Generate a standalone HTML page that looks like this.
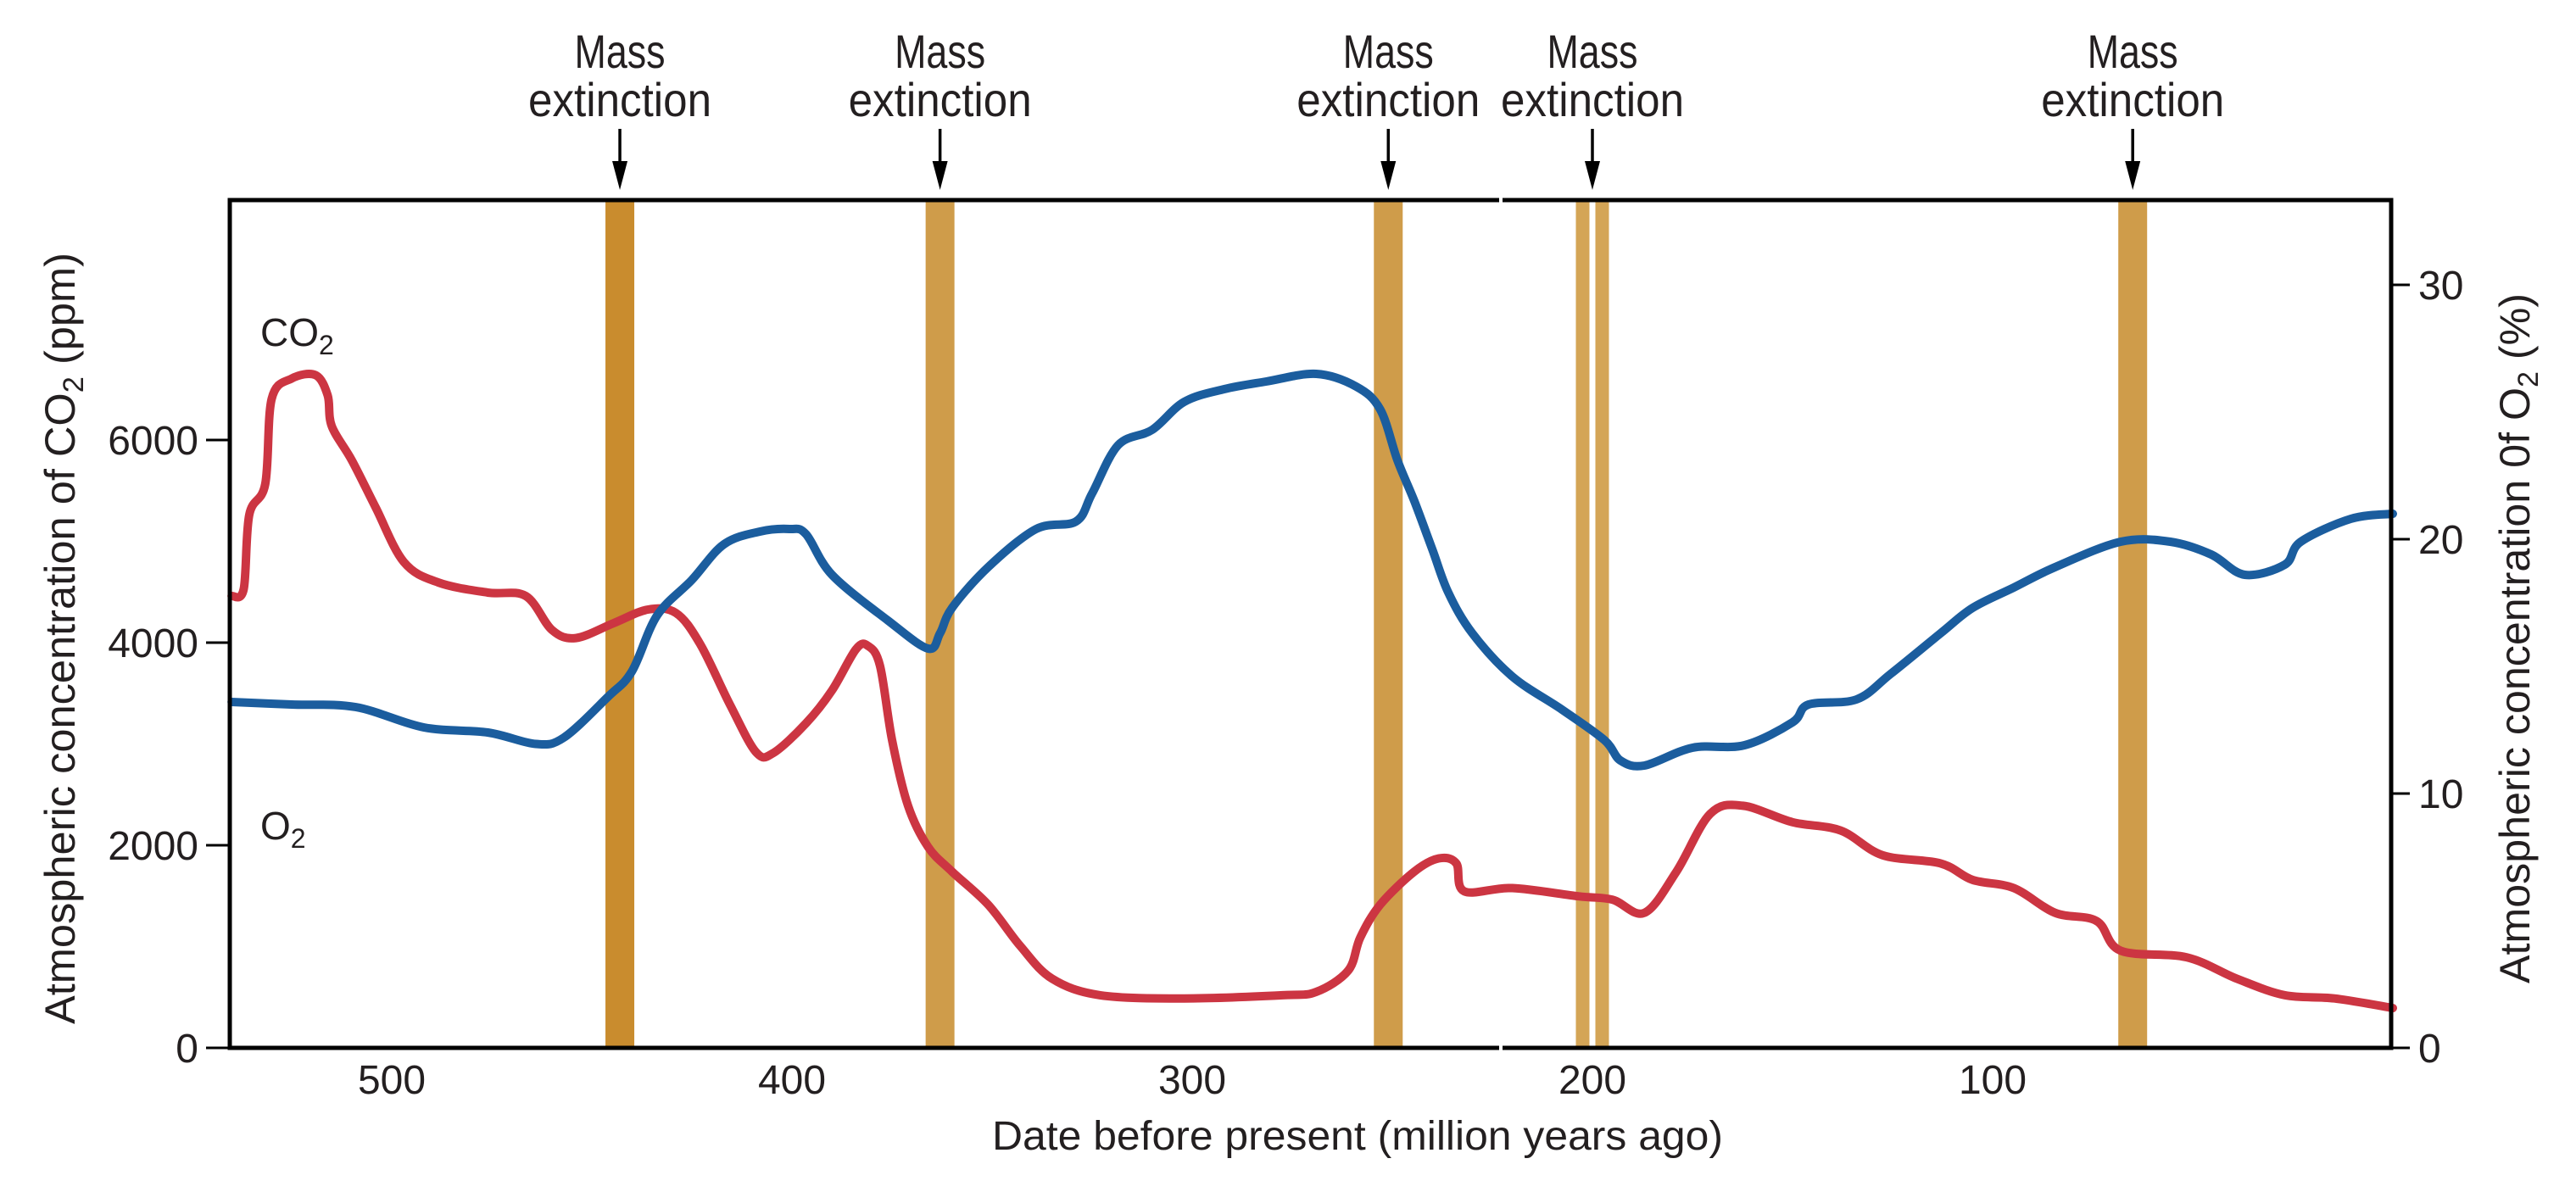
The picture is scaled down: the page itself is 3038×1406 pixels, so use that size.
<!DOCTYPE html>
<html><head><meta charset="utf-8"><style>
html,body{margin:0;padding:0;background:#fff;}
svg{display:block;}
text{font-family:"Liberation Sans",sans-serif;fill:#231f20;}
</style></head><body>
<svg id="chart" width="3038" height="1406" viewBox="0 0 3038 1406" xmlns="http://www.w3.org/2000/svg">
<g id="bands"></g>
<g id="ann"></g>
<g id="lines"></g>
<g id="axes"></g>
</svg>
<script>
const co2Times=[540,537,535.6,531.6,530,525,519,516,515,510,504,497,488.4,476,466.5,460,454,444.6,436,429,423,415.5,409,404.7,396.5,390,384,381,378,375,371,366,360,351,343,335,323,302,277.4,269,261,258,253,244.5,238.4,234,232,220,203.5,195,187,179,170.6,162.4,150,138,127.5,113,105,94.7,84.4,74,68,51.5,39,27,14.6,0];
const co2Values=[4460,4527,5263,5565,6406,6607,6640,6439,6138,5802,5333,4797,4594,4494,4460,4126,4045,4192,4326,4293,3991,3389,2920,2910,3203,3528,3935,3967,3772,3040,2390,1984,1740,1414,1008,683,520,488,520,553,764,1089,1414,1740,1870,1821,1545,1577,1496,1463,1333,1740,2309,2390,2228,2146,1902,1821,1658,1577,1333,1252,959,894,683,520,488,393];
const o2Times=[540,525,509,492,476,464,457,446,440,433.7,425,417,408,400.6,396.5,390,376,366,363,360,351,339,329,325,318.5,310,302,292,281.5,269,259,253,248.7,244.5,240,236,230,220,207.6,197,193,187,175,162,150,146,134,125.5,113,105,94.7,84.4,68,55.6,45.4,37,27,23,10.5,0];
const o2Values=[13.6,13.5,13.4,12.6,12.4,11.95,12.2,13.8,14.8,17.0,18.4,19.8,20.3,20.4,20.2,18.6,16.8,15.7,16.3,17.3,18.9,20.4,20.7,21.8,23.7,24.3,25.4,25.9,26.2,26.5,26.0,25.1,23.1,21.5,19.6,17.9,16.3,14.6,13.3,12.1,11.3,11.1,11.8,11.9,12.8,13.5,13.7,14.7,16.3,17.3,18.1,18.9,19.9,19.9,19.4,18.6,19.0,19.9,20.8,21.0];
const extinctionTimes=[443,363,251,200,65];
const xTicks=[500,400,300,200,100];
const co2Ticks=[0,2000,4000,6000];
const o2Ticks=[0,10,20,30];

const L=271,R=2820,T=236,B=1236;
const x=t=>2822-t*4.72;
const yC=v=>B-v*0.1195;
const yO=v=>B-v*30;
const NS="http://www.w3.org/2000/svg";
function mk(tag,attrs,parent){const e=document.createElementNS(NS,tag);for(const k in attrs)e.setAttribute(k,attrs[k]);parent.appendChild(e);return e;}
function smooth(pts){let d="M"+pts[0][0].toFixed(1)+","+pts[0][1].toFixed(1);
for(let i=0;i<pts.length-1;i++){const p0=pts[Math.max(0,i-1)],p1=pts[i],p2=pts[i+1],p3=pts[Math.min(pts.length-1,i+2)];
const c1=[p1[0]+(p2[0]-p0[0])/6,p1[1]+(p2[1]-p0[1])/6],c2=[p2[0]-(p3[0]-p1[0])/6,p2[1]-(p3[1]-p1[1])/6];
d+="C"+c1[0].toFixed(1)+","+c1[1].toFixed(1)+" "+c2[0].toFixed(1)+","+c2[1].toFixed(1)+" "+p2[0].toFixed(1)+","+p2[1].toFixed(1);}return d;}

const bands=document.getElementById('bands');
extinctionTimes.forEach((t,i)=>{
  if(t===200){
    [-11.5,11.5].forEach(o=>{const r=mk('rect',{x:x(t)+o-8,y:T,width:16,height:B-T,fill:'#d4a556'},bands);
    
    });
  } else {
    const r=mk('rect',{x:x(t)-17,y:T,width:34,height:B-T,fill:i===0?'#c98c2e':'#cf9c4a'},bands);
    
    
  }
});
const ann=document.getElementById('ann');
extinctionTimes.forEach(t=>{
  const cx=x(t);
  const m=mk('text',{x:cx,y:80,'font-size':56,'text-anchor':'middle',textLength:107,lengthAdjust:'spacingAndGlyphs'},ann);m.textContent='Mass';
  
  
  const e=mk('text',{x:cx,y:137,'font-size':56,'text-anchor':'middle',textLength:216,lengthAdjust:'spacingAndGlyphs'},ann);e.textContent='extinction';
  
  
  const a=mk('line',{x1:cx,y1:152,x2:cx,y2:200,stroke:'#000','stroke-width':3.5},ann);
  
  
  const h=mk('polygon',{points:`${cx-9},${190} ${cx+9},${190} ${cx},${224}`,fill:'#000'},ann);
  
  
});
const lines=document.getElementById('lines');
const pc=mk('path',{d:smooth(co2Times.map((t,i)=>[x(t),yC(co2Values[i])])),fill:'none',stroke:'#cc3542','stroke-width':10,'stroke-linejoin':'round','stroke-linecap':'round'},lines);


const po=mk('path',{d:smooth(o2Times.map((t,i)=>[x(t),yO(o2Values[i])])),fill:'none',stroke:'#1b5d9e','stroke-width':10,'stroke-linejoin':'round','stroke-linecap':'round'},lines);



const ax=document.getElementById('axes');
const fr=mk('rect',{x:L,y:T,width:R-L,height:B-T,fill:'none',stroke:'#000','stroke-width':5},ax);


const g1=mk('rect',{x:1768,y:T-5,width:4,height:10,fill:'#fff'},ax);


const g2=mk('rect',{x:1768,y:B-5,width:4,height:10,fill:'#fff'},ax);


xTicks.forEach(t=>{const tx=mk('text',{x:x(t),y:1290,'font-size':48,'text-anchor':'middle',textLength:80,lengthAdjust:'spacingAndGlyphs'},ax);tx.textContent=t;
  
  });
co2Ticks.forEach(v=>{const y=yC(v);
  const l=mk('line',{x1:243,y1:y,x2:L,y2:y,stroke:'#000','stroke-width':3},ax);
  
  
  const tx=mk('text',{x:234,y:y+17,'font-size':48,'text-anchor':'end'},ax);tx.textContent=v;
  
  });
o2Ticks.forEach(v=>{const y=yO(v);
  const l=mk('line',{x1:R,y1:y,x2:2842,y2:y,stroke:'#000','stroke-width':3},ax);
  
  
  const tx=mk('text',{x:2852,y:y+17,'font-size':48,'text-anchor':'start'},ax);tx.textContent=v;
  
  });
</script>
<svg style="position:absolute;left:0;top:0" width="3038" height="1406" xmlns="http://www.w3.org/2000/svg">
<text x="1601" y="1356" font-size="48" text-anchor="middle" textLength="862" lengthAdjust="spacingAndGlyphs">Date before present (million years ago)</text>
<text transform="translate(88,753) rotate(-90)" font-size="50" text-anchor="middle" textLength="910" lengthAdjust="spacingAndGlyphs">Atmospheric concentration of CO<tspan font-size="34" dy="10">2</tspan><tspan dy="-10"> (ppm)</tspan></text>
<text transform="translate(2983,753) rotate(-90)" font-size="50" text-anchor="middle" textLength="814" lengthAdjust="spacingAndGlyphs">Atmospheric concentration 0f O<tspan font-size="34" dy="10">2</tspan><tspan dy="-10"> (%)</tspan></text>
<text x="307" y="408" font-size="46">CO<tspan font-size="32" dy="10">2</tspan></text>
<text x="307" y="990" font-size="46">O<tspan font-size="32" dy="10">2</tspan></text>
</svg>
</body></html>
